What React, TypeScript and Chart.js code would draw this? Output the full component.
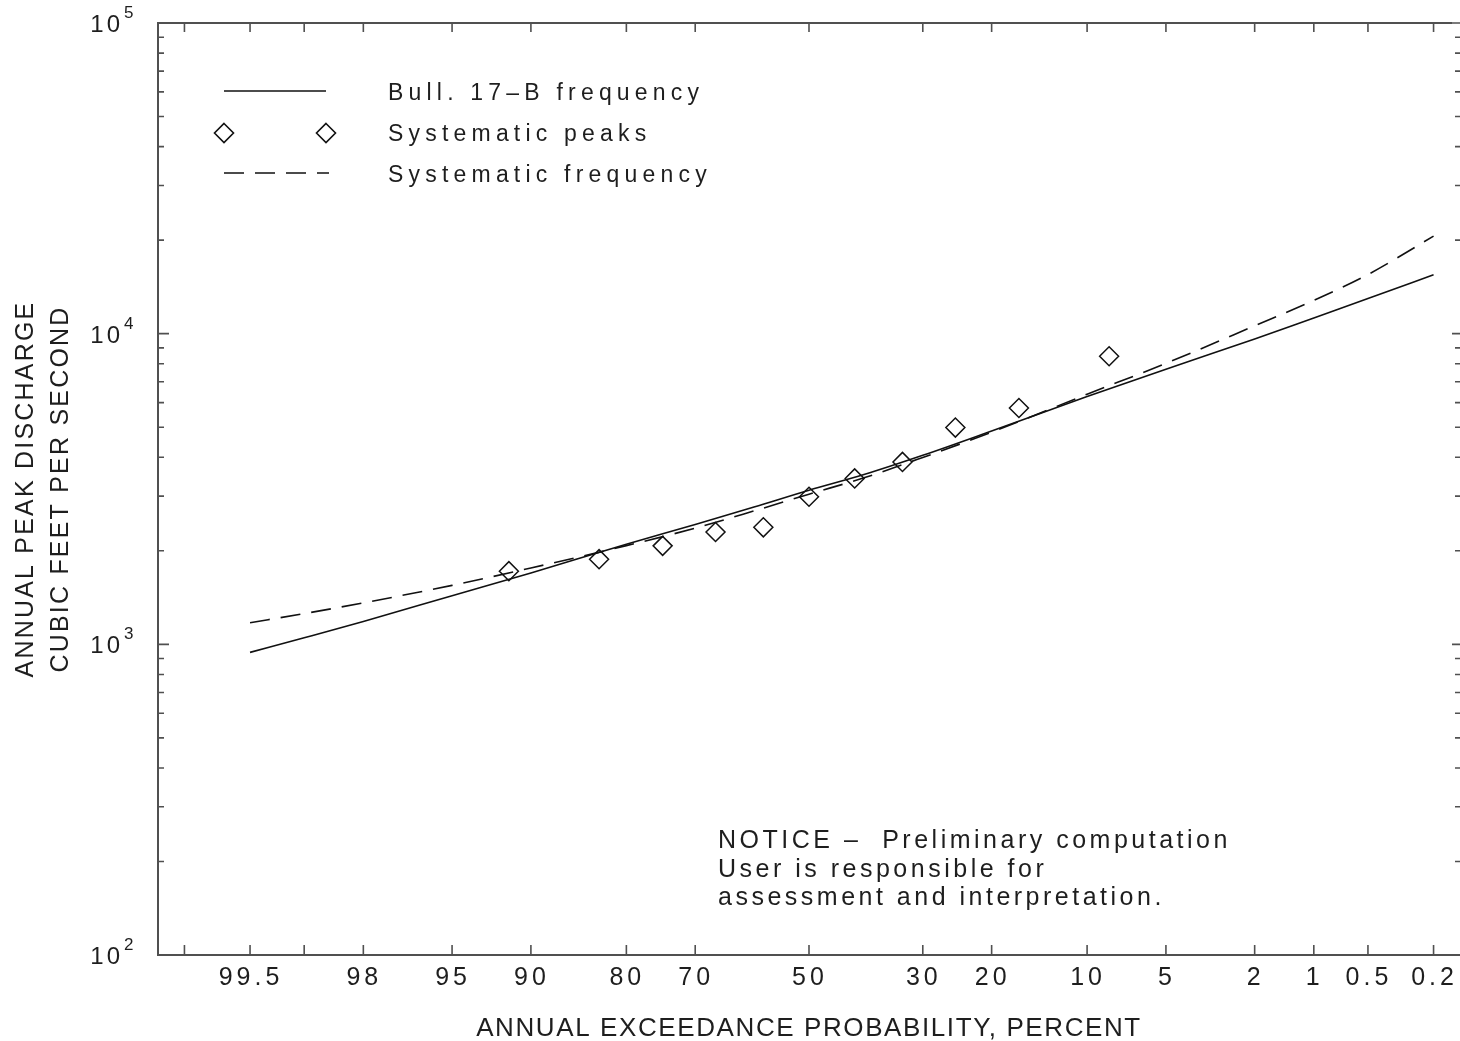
import React, { useEffect, useRef } from 'react';
import { Chart, registerables } from 'chart.js';

Chart.register(...registerables);

const FONT = '"Liberation Sans", Arial, Helvetica, sans-serif';
const INK = '#1e1e1e';
const AXIS = '#505050';

// x-axis tick positions (annual exceedance probability, percent) and their labels
const tickProbabilities = [99.8, 99.5, 99, 98, 95, 90, 80, 70, 50, 30, 20, 10, 5, 2, 1, 0.5, 0.2];
const tickLabels = ['', '99.5', '', '98', '95', '90', '80', '70', '50', '30', '20', '10', '5', '2', '1', '0.5', '0.2'];

// y-axis decades (exponents of 10)
const decadeExponents = [2, 3, 4, 5];

// systematic peaks: plotting positions (percent) and discharge (cfs)
const peakProbabilities = [91.667, 83.333, 75, 66.667, 58.333, 50, 41.667, 33.333, 25, 16.667, 8.333];
const peakDischarge = [1720, 1880, 2075, 2300, 2380, 2985, 3420, 3865, 4985, 5765, 8455];

// frequency curves
const curveProbabilities = [99.5, 99, 98, 95, 90, 80, 70, 60, 50, 40, 30, 20, 10, 5, 2, 1, 0.5, 0.2];
const bull17B = [942, 1050, 1185, 1434, 1697, 2101, 2430, 2766, 3134, 3520, 4060, 4862, 6272, 7685, 9607, 11240, 12970, 15480];
const systematicFrequency = [1174, 1256, 1360, 1548, 1761, 2078, 2366, 2688, 3043, 3435, 3995, 4817, 6383, 8026, 10600, 12800, 15500, 20600];

const legendLabels = ['Bull. 17\u2013B frequency', 'Systematic peaks', 'Systematic frequency'];
const noticeLines = ['NOTICE \u2013  Preliminary computation', 'User is responsible for', 'assessment and interpretation.'];
const xTitle = 'ANNUAL EXCEEDANCE PROBABILITY, PERCENT';
const yTitleLines = ['ANNUAL PEAK DISCHARGE', 'CUBIC FEET PER SECOND'];

// inverse standard normal CDF (Acklam) — the probability-paper axis transform
function normInv(p: number): number {
  const a = [-3.969683028665376e1, 2.209460984245205e2, -2.759285104469687e2, 1.38357751867269e2, -3.066479806614716e1, 2.506628277459239];
  const b = [-5.447609879822406e1, 1.615858368580409e2, -1.556989798598866e2, 6.680131188771972e1, -1.328068155288572e1];
  const c = [-7.784894002430293e-3, -3.223964580411365e-1, -2.400758277161838, -2.549671348283853, 4.374664141464968, 2.938163982698783];
  const d = [7.784695709041462e-3, 3.224671290700398e-1, 2.445134137142996, 3.754408661907416];
  const pl = 0.02425;
  if (p < pl) {
    const q = Math.sqrt(-2 * Math.log(p));
    return (((((c[0] * q + c[1]) * q + c[2]) * q + c[3]) * q + c[4]) * q + c[5]) / ((((d[0] * q + d[1]) * q + d[2]) * q + d[3]) * q + 1);
  }
  if (p <= 1 - pl) {
    const q = p - 0.5;
    const r = q * q;
    return ((((((a[0] * r + a[1]) * r + a[2]) * r + a[3]) * r + a[4]) * r + a[5]) * q) / (((((b[0] * r + b[1]) * r + b[2]) * r + b[3]) * r + b[4]) * r + 1);
  }
  const q = Math.sqrt(-2 * Math.log(1 - p));
  return -(((((c[0] * q + c[1]) * q + c[2]) * q + c[3]) * q + c[4]) * q + c[5]) / ((((d[0] * q + d[1]) * q + d[2]) * q + d[3]) * q + 1);
}
const zOf = (exceedPct: number) => normInv(1 - exceedPct / 100);

function setSpacing(ctx: any, px: number) {
  if ('letterSpacing' in ctx) ctx.letterSpacing = px + 'px';
}

function drawDiamond(ctx: CanvasRenderingContext2D, x: number, y: number, r: number) {
  ctx.beginPath();
  ctx.moveTo(x, y - r);
  ctx.lineTo(x + r, y);
  ctx.lineTo(x, y + r);
  ctx.lineTo(x - r, y);
  ctx.closePath();
  ctx.stroke();
}

const decorPlugin = {
  id: 'decor',
  afterDraw(chart: any) {
    const ctx: CanvasRenderingContext2D = chart.ctx;
    const { left, right, top, bottom } = chart.chartArea;
    const xs = chart.scales.x;
    const ys = chart.scales.y;
    ctx.save();

    // frame (right edge falls at the canvas edge)
    ctx.strokeStyle = AXIS;
    ctx.lineWidth = 2;
    ctx.beginPath();
    ctx.moveTo(right - 8, top);
    ctx.lineTo(left, top);
    ctx.lineTo(left, bottom);
    ctx.lineTo(right, bottom);
    ctx.stroke();

    // x ticks (inward, top and bottom) + labels
    ctx.lineWidth = 1.6;
    ctx.strokeStyle = AXIS;
    ctx.fillStyle = INK;
    ctx.font = '25px ' + FONT;
    setSpacing(ctx, 4);
    ctx.textAlign = 'center';
    ctx.textBaseline = 'alphabetic';
    tickProbabilities.forEach((p, i) => {
      const x = xs.getPixelForValue(zOf(p));
      ctx.beginPath();
      ctx.moveTo(x, bottom);
      ctx.lineTo(x, bottom - 10);
      ctx.moveTo(x, top);
      ctx.lineTo(x, top + 9);
      ctx.stroke();
      if (tickLabels[i]) ctx.fillText(tickLabels[i], x + 1, 985);
    });

    // y ticks (inward, left and right) + labels
    decadeExponents.forEach((e, i) => {
      const base = Math.pow(10, e);
      const y = ys.getPixelForValue(base);
      ctx.beginPath();
      ctx.moveTo(left, y);
      ctx.lineTo(left + 11, y);
      ctx.moveTo(right, y);
      ctx.lineTo(right - 8, y);
      ctx.stroke();
      if (i < decadeExponents.length - 1) {
        for (let k = 2; k <= 9; k++) {
          const ym = ys.getPixelForValue(k * base);
          ctx.beginPath();
          ctx.moveTo(left, ym);
          ctx.lineTo(left + 6, ym);
          ctx.moveTo(right, ym);
          ctx.lineTo(right - 5, ym);
          ctx.stroke();
        }
      }
      ctx.font = '24px ' + FONT;
      setSpacing(ctx, 3);
      ctx.textAlign = 'right';
      ctx.fillText('10', 123, y + 9);
      ctx.font = '17px ' + FONT;
      setSpacing(ctx, 0);
      ctx.textAlign = 'left';
      ctx.fillText(String(e), 124, y - 5);
    });

    // axis titles
    ctx.font = '26px ' + FONT;
    setSpacing(ctx, 1.6);
    ctx.textAlign = 'center';
    ctx.fillText(xTitle, (left + right) / 2, 1036);

    ctx.font = '25px ' + FONT;
    setSpacing(ctx, 2.2);
    const yc = (top + bottom) / 2;
    [33, 68].forEach((bx, i) => {
      ctx.save();
      ctx.translate(bx, yc);
      ctx.rotate(-Math.PI / 2);
      ctx.textAlign = 'center';
      ctx.fillText(yTitleLines[i], 0, 0);
      ctx.restore();
    });

    // legend
    ctx.strokeStyle = '#111';
    ctx.lineWidth = 1.6;
    ctx.beginPath();
    ctx.moveTo(224, 91);
    ctx.lineTo(326, 91);
    ctx.stroke();
    drawDiamond(ctx, 224, 133, 9.5);
    drawDiamond(ctx, 326, 133, 9.5);
    ctx.setLineDash([20, 11]);
    ctx.beginPath();
    ctx.moveTo(224, 173);
    ctx.lineTo(329, 173);
    ctx.stroke();
    ctx.setLineDash([]);
    ctx.font = '23px ' + FONT;
    setSpacing(ctx, 5.2);
    ctx.textAlign = 'left';
    [99.5, 140.7, 181.7].forEach((by, i) => ctx.fillText(legendLabels[i], 388, by));

    // notice
    ctx.font = '25px ' + FONT;
    setSpacing(ctx, 3.5);
    [848.3, 876.7, 904.5].forEach((by, i) => ctx.fillText(noticeLines[i], 718, by));

    setSpacing(ctx, 0);
    ctx.restore();
  },
};

export default function App() {
  const ref = useRef<HTMLCanvasElement | null>(null);

  useEffect(() => {
    document.body.style.margin = '0';
    const canvas = ref.current;
    if (!canvas) return;
    const chart = new Chart(canvas, {
      type: 'scatter',
      data: {
        datasets: [
          {
            label: legendLabels[0],
            data: curveProbabilities.map((p, i) => ({ x: zOf(p), y: bull17B[i] })),
            showLine: true,
            borderColor: '#111',
            borderWidth: 1.6,
            pointRadius: 0,
            cubicInterpolationMode: 'monotone',
          },
          {
            label: legendLabels[2],
            data: curveProbabilities.map((p, i) => ({ x: zOf(p), y: systematicFrequency[i] })),
            showLine: true,
            borderColor: '#111',
            borderWidth: 1.6,
            borderDash: [20, 11],
            pointRadius: 0,
            cubicInterpolationMode: 'monotone',
          },
          {
            label: legendLabels[1],
            data: peakProbabilities.map((p, i) => ({ x: zOf(p), y: peakDischarge[i] })),
            showLine: false,
            pointStyle: 'rectRot',
            pointRadius: 9.5,
            pointBorderWidth: 1.5,
            pointBorderColor: '#111',
            pointBackgroundColor: 'rgba(0,0,0,0)',
            borderColor: '#111',
            backgroundColor: 'rgba(0,0,0,0)',
          },
        ],
      } as any,
      options: {
        responsive: false,
        animation: false,
        devicePixelRatio: 1,
        layout: { autoPadding: false, padding: { left: 158, right: 0, top: 23, bottom: 86 } },
        plugins: { legend: { display: false }, tooltip: { enabled: false } },
        events: [],
        scales: {
          x: { type: 'linear', min: -3, max: 3, display: false },
          y: { type: 'logarithmic', min: 100, max: 100000, display: false },
        },
      } as any,
      plugins: [decorPlugin],
    });
    return () => chart.destroy();
  }, []);

  return (
    <div style={{ width: 1460, height: 1041, background: '#fff' }}>
      <canvas ref={ref} width={1460} height={1041} style={{ display: 'block' }} />
    </div>
  );
}
